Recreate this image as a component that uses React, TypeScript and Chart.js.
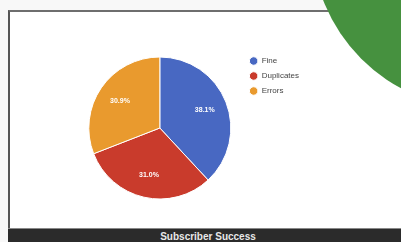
import React, { useEffect, useRef } from "react";
import { Chart, registerables } from "chart.js";

Chart.register(...registerables);

const categories = ["Fine", "Duplicates", "Errors"];
const values = [38.1, 31.0, 30.9];
const sliceColors = ["#4868c2", "#c93b2c", "#e99a2e"];
const footerTitle = "Subscriber Success";

const sliceLabels = {
  id: "sliceLabels",
  afterDatasetsDraw(chart: any) {
    const { ctx } = chart;
    const meta = chart.getDatasetMeta(0);
    const data = chart.data.datasets[0].data as number[];
    const total = data.reduce((a: number, b: number) => a + b, 0);
    ctx.save();
    ctx.fillStyle = "#ffffff";
    ctx.font = "bold 7px 'Liberation Sans', Arial, sans-serif";
    ctx.textAlign = "center";
    ctx.textBaseline = "middle";
    meta.data.forEach((arc: any, i: number) => {
      const p = arc.getProps(["x", "y", "startAngle", "endAngle", "outerRadius"], true);
      const mid = (p.startAngle + p.endAngle) / 2;
      const r = p.outerRadius * 0.68;
      ctx.fillText(((data[i] / total) * 100).toFixed(1) + "%", p.x + Math.cos(mid) * r, p.y + Math.sin(mid) * r);
    });
    ctx.restore();
  },
};

export default function App() {
  const ref = useRef<HTMLCanvasElement | null>(null);
  useEffect(() => {
    if (!ref.current) return;
    const chart = new Chart(ref.current, {
      type: "pie",
      data: {
        labels: categories,
        datasets: [
          {
            data: values,
            backgroundColor: sliceColors,
            borderColor: "#ffffff",
            borderWidth: 1,
            radius: 71,
          } as any,
        ],
      },
      options: {
        animation: false,
        responsive: false,
        maintainAspectRatio: false,
        layout: { padding: 0 },
        plugins: {
          tooltip: { enabled: false },
          legend: {
            position: "right",
            align: "start",
            labels: {
              usePointStyle: true,
              pointStyle: "circle",
              boxWidth: 8,
              boxHeight: 6,
              padding: 7,
              color: "#444",
              font: { size: 8, family: "'Liberation Sans', Arial, sans-serif" },
            },
          },
        },
      },
      plugins: [sliceLabels],
    });
    return () => chart.destroy();
  }, []);

  return (
    <div
      style={{
        position: "fixed",
        left: 0,
        top: 0,
        width: 401,
        height: 242,
        overflow: "hidden",
        background: "#f8f8f8",
        filter: "blur(0.6px)",
      }}
    >
      <div
        style={{
          position: "absolute",
          left: 8,
          top: 10,
          width: 410,
          height: 240,
          borderTop: "2px solid #6e6e6e",
          borderLeft: "2px solid #555555",
          background: "#ffffff",
          boxSizing: "border-box",
        }}
      />
      <canvas
        ref={ref}
        width={232}
        height={156}
        style={{ position: "absolute", left: 77, top: 50, width: 232, height: 156 }}
      />
      <div
        style={{
          position: "absolute",
          left: 8,
          top: 228,
          width: 400,
          height: 14,
          background: "#2b2b2b",
          borderTop: "1px solid #888",
          color: "#e8e8e8",
          fontFamily: "'Liberation Sans', Arial, sans-serif",
          fontWeight: "bold",
          fontSize: 10,
          lineHeight: "15px",
          textAlign: "center",
          paddingRight: 0,
          boxSizing: "border-box",
        }}
      >
        {footerTitle}
      </div>
      <div
        style={{
          position: "absolute",
          left: 312,
          top: -228,
          width: 336,
          height: 336,
          borderRadius: "50%",
          background: "#46913f",
        }}
      />
    </div>
  );
}
